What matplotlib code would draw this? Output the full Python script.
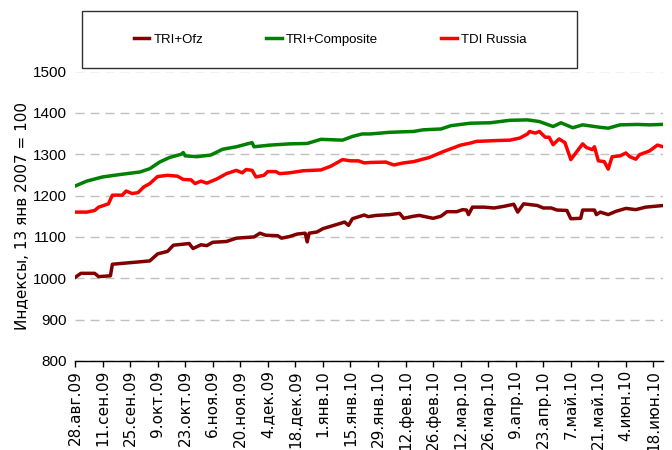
from datetime import datetime, timedelta

import matplotlib
matplotlib.use('Agg')
import matplotlib.pyplot as plt

plt.rcParams['font.family'] = ['DejaVu Sans']

start = datetime(2009, 8, 28)

# days from 28.08.2009 and index values
ofz_days = [0, 3, 10, 12, 18, 19, 31, 38, 42, 47, 50, 58, 60, 64, 67, 70, 77, 82, 91, 94,
            97, 103, 105, 109, 113, 117, 118, 119, 123, 126, 133, 137, 139, 141, 147, 149, 153, 160, 165, 167,
            172, 175, 182, 186, 189, 194, 197, 199, 200, 202, 208, 213, 218, 223, 225, 228, 235, 238, 242, 245,
            250, 252, 257, 258, 264, 265, 267, 271, 275, 280, 285, 290, 299]
ofz_vals = [1002, 1012, 1012, 1004, 1006, 1034, 1039, 1042, 1059, 1065, 1080, 1084, 1072, 1081, 1079, 1087, 1089, 1097, 1100, 1109,
            1104, 1103, 1097, 1101, 1107, 1109, 1088, 1109, 1112, 1120, 1130, 1136, 1128, 1144, 1153, 1149, 1152, 1154, 1157, 1145,
            1150, 1152, 1145, 1150, 1161, 1161, 1166, 1165, 1154, 1172, 1172, 1170, 1174, 1179, 1160, 1180, 1176, 1170, 1170, 1165,
            1164, 1144, 1145, 1165, 1165, 1154, 1160, 1154, 1162, 1169, 1166, 1172, 1176]

comp_days = [0, 6, 14, 23, 33, 38, 43, 48, 54, 55, 56, 62, 69, 75, 82, 90, 91, 99, 109, 118,
             125, 136, 141, 146, 150, 160, 172, 177, 186, 191, 201, 211, 221, 230, 236, 243, 247, 253, 258, 267,
             271, 277, 286, 292, 298]
comp_vals = [1223, 1235, 1245, 1251, 1257, 1265, 1281, 1292, 1300, 1304, 1296, 1294, 1298, 1312, 1318, 1328, 1318, 1322, 1325, 1326,
             1336, 1334, 1343, 1349, 1349, 1353, 1355, 1359, 1361, 1369, 1375, 1376, 1382, 1383, 1379, 1367, 1376, 1364, 1371, 1365,
             1363, 1371, 1372, 1371, 1372]

tdi_days = [0, 6, 10, 12, 17, 19, 24, 26, 29, 32, 35, 38, 42, 47, 52, 55, 59, 61, 64, 67,
            72, 77, 82, 85, 87, 90, 92, 96, 98, 102, 104, 109, 116, 125, 130, 136, 140, 144, 147, 150,
            158, 162, 167, 172, 180, 187, 196, 201, 204, 214, 221, 226, 230, 231, 234, 236, 239, 241, 243, 246,
            249, 252, 258, 260, 263, 264, 266, 269, 271, 273, 277, 280, 282, 285, 287, 292, 296, 299]
tdi_vals = [1160, 1160, 1164, 1172, 1180, 1201, 1201, 1211, 1205, 1207, 1221, 1229, 1246, 1249, 1247, 1239, 1238, 1229, 1235, 1230,
            1240, 1253, 1261, 1255, 1263, 1261, 1245, 1249, 1258, 1258, 1253, 1255, 1260, 1262, 1271, 1287, 1284, 1284, 1279, 1280,
            1281, 1274, 1279, 1282, 1292, 1306, 1322, 1327, 1331, 1333, 1334, 1339, 1349, 1355, 1351, 1355, 1341, 1341, 1323, 1337,
            1328, 1287, 1325, 1316, 1311, 1318, 1284, 1282, 1264, 1294, 1296, 1303, 1294, 1288, 1299, 1308, 1322, 1318]

series_names = ['TRI+Ofz', 'TRI+Composite', 'TDI Russia']
series_colors = ['#800000', '#008000', '#FF0000']
months_ru = ['янв', 'фев', 'мар', 'апр', 'май', 'июн', 'июл', 'авг', 'сен', 'окт', 'ноя', 'дек']


def to_dates(days):
    return [start + timedelta(days=d) for d in days]


fig = plt.figure(figsize=(6.72, 4.5), dpi=100)
ax = fig.add_axes([75 / 672, 1 - 361 / 450, (663.3 - 75) / 672, (361 - 71.5) / 450])

lines = []
for days, vals, name, color in zip([ofz_days, comp_days, tdi_days], [ofz_vals, comp_vals, tdi_vals],
                                   series_names, series_colors):
    ln, = ax.plot(to_dates(days), vals, color=color, lw=2.5, label=name, solid_joinstyle='round')
    lines.append(ln)

ax.set_ylim(800, 1500)
ax.set_xlim(start, start + timedelta(days=299))
ax.set_yticks(range(800, 1501, 100))
ax.set_yticklabels([str(v) for v in range(800, 1501, 100)], family='Liberation Sans', fontsize=11)

ticks = [start + timedelta(days=14 * k) for k in range(22)]
ax.set_xticks(ticks)
ax.set_xticklabels(['{}.{}.{:02d}'.format(t.day, months_ru[t.month - 1], t.year % 100) for t in ticks],
                   rotation=90, fontsize=11)

ax.tick_params(axis='y', length=0, pad=6)
ax.tick_params(axis='x', direction='out', length=4.5, width=1, color='black', pad=2)

for s in ['top', 'right', 'left']:
    ax.spines[s].set_visible(False)
ax.spines['bottom'].set_color('black')
ax.spines['bottom'].set_linewidth(1)

ax.yaxis.grid(True, color='#C0C0C0', lw=1, linestyle=(0, (6.5, 4.3)))
ax.set_axisbelow(True)

ax.set_ylabel('Индексы, 13 янв 2007 = 100', fontsize=11, labelpad=2)

# legend box above the plot
fig.add_artist(plt.Rectangle((82 / 672, 1 - 68 / 450), 495 / 672, 57 / 450, transform=fig.transFigure,
                             fill=False, edgecolor='#303030', lw=1))
fig.legend(handles=lines, labels=series_names, ncol=3, mode='expand', frameon=False,
           bbox_to_anchor=(127 / 672, 1 - 68 / 450, (533 - 127) / 672, 57 / 450), loc='center',
           borderpad=0, handlelength=1.2, handletextpad=0.3,
           prop={'family': 'Liberation Sans', 'size': 9.5})

fig.savefig('out.png', dpi=100)
